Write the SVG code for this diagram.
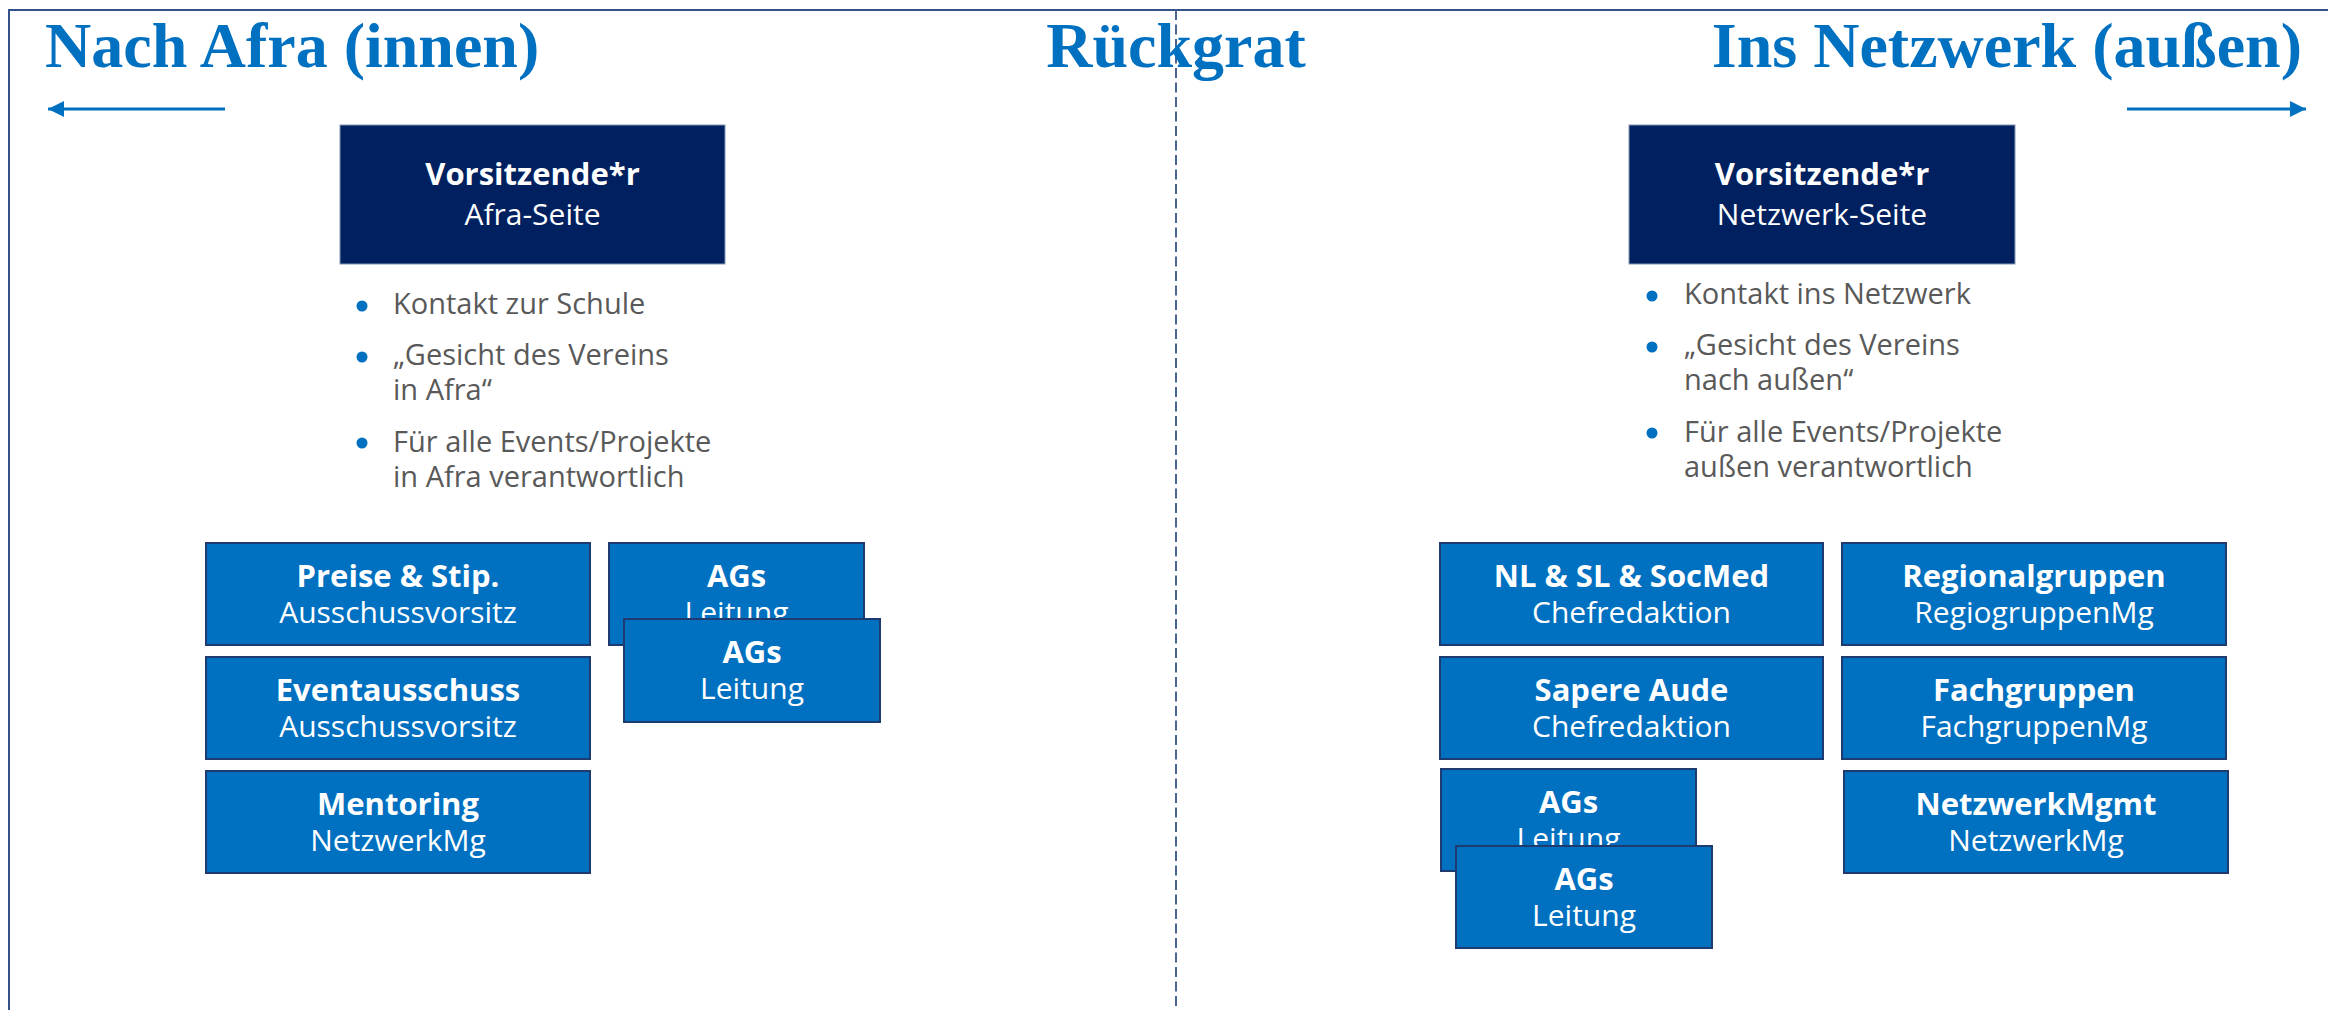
<svg xmlns="http://www.w3.org/2000/svg" width="2328" height="1010" viewBox="0 0 2328 1010">
<style>
.title{font-family:"Liberation Serif","Times New Roman",serif;font-weight:bold;font-size:64px;fill:#0070C0}
.lead rect{fill:#002060;stroke:#8497B0;stroke-width:1}
.unit rect{fill:#0070C0;stroke:#1F3A6E;stroke-width:2}
.nb{font-family:"Open Sans","Noto Sans",sans-serif;font-weight:bold;font-size:31px;fill:#FFFFFF;text-anchor:middle}
.nr{font-family:"Open Sans","Noto Sans",sans-serif;font-size:30px;fill:#FFFFFF;text-anchor:middle}
.bt{font-family:"Open Sans","Noto Sans",sans-serif;font-size:29px;fill:#595959}
.dot{fill:#0070C0}
</style>
<defs>
<marker id="ah" markerUnits="userSpaceOnUse" markerWidth="18" markerHeight="18" refX="16" refY="8" orient="auto">
<path d="M0,0 L16,8 L0,16 Z" fill="#0070C0"/>
</marker>
</defs>
<rect x="0" y="0" width="2328" height="1010" fill="#FFFFFF"/>
<rect id="frame" x="9" y="10" width="2400" height="1100" fill="none" stroke="#34518A" stroke-width="2"/>
<line id="backbone" x1="1176" y1="10" x2="1176" y2="1010" stroke="#4A6491" stroke-width="2" stroke-dasharray="10,4.5"/>

<text class="title" x="45" y="67">Nach Afra (innen)</text>
<text class="title" x="1176" y="67" text-anchor="middle">Rückgrat</text>
<text class="title" x="2302" y="67" text-anchor="end">Ins Netzwerk (außen)</text>

<g id="connectors">
<line x1="225" y1="109" x2="48" y2="109" stroke="#0070C0" stroke-width="3" marker-end="url(#ah)"/>
<line x1="2127" y1="109" x2="2306" y2="109" stroke="#0070C0" stroke-width="3" marker-end="url(#ah)"/>
</g>

<g id="vorsitz-afra" class="lead">
<rect x="340" y="125" width="385" height="139"/>
<text class="nb" x="532.5" y="185">Vorsitzende*r</text>
<text class="nr" x="532.5" y="225">Afra-Seite</text>
</g>
<g id="bullets-afra">
<circle class="dot" cx="362" cy="306" r="5.5"/>
<text class="bt" x="393" y="314">Kontakt zur Schule</text>
<circle class="dot" cx="362" cy="357" r="5.5"/>
<text class="bt" x="393" y="365">„Gesicht des Vereins</text>
<text class="bt" x="393" y="400">in Afra“</text>
<circle class="dot" cx="362" cy="443" r="5.5"/>
<text class="bt" x="393" y="452">Für alle Events/Projekte</text>
<text class="bt" x="393" y="487">in Afra verantwortlich</text>
</g>

<g id="vorsitz-netzwerk" class="lead">
<rect x="1629" y="125" width="386" height="139"/>
<text class="nb" x="1822" y="185">Vorsitzende*r</text>
<text class="nr" x="1822" y="225">Netzwerk-Seite</text>
</g>
<g id="bullets-netzwerk">
<circle class="dot" cx="1652" cy="296" r="5.5"/>
<text class="bt" x="1684" y="304">Kontakt ins Netzwerk</text>
<circle class="dot" cx="1652" cy="347" r="5.5"/>
<text class="bt" x="1684" y="355">„Gesicht des Vereins</text>
<text class="bt" x="1684" y="390">nach außen“</text>
<circle class="dot" cx="1652" cy="433" r="5.5"/>
<text class="bt" x="1684" y="442">Für alle Events/Projekte</text>
<text class="bt" x="1684" y="477">außen verantwortlich</text>
</g>

<g id="preise" class="unit">
<rect x="206" y="543" width="384" height="102"/>
<text class="nb" x="398" y="587">Preise &amp; Stip.</text>
<text class="nr" x="398" y="623">Ausschussvorsitz</text>
</g>
<g id="eventausschuss" class="unit">
<rect x="206" y="657" width="384" height="102"/>
<text class="nb" x="398" y="701">Eventausschuss</text>
<text class="nr" x="398" y="737">Ausschussvorsitz</text>
</g>
<g id="mentoring" class="unit">
<rect x="206" y="771" width="384" height="102"/>
<text class="nb" x="398" y="815">Mentoring</text>
<text class="nr" x="398" y="851">NetzwerkMg</text>
</g>
<g id="ags-afra-1" class="unit">
<rect x="609" y="543" width="255" height="102"/>
<text class="nb" x="736.5" y="587">AGs</text>
<text class="nr" x="736.5" y="623">Leitung</text>
</g>
<g id="ags-afra-2" class="unit">
<rect x="624" y="619" width="256" height="103"/>
<text class="nb" x="752" y="663">AGs</text>
<text class="nr" x="752" y="699">Leitung</text>
</g>

<g id="nl-sl-socmed" class="unit">
<rect x="1440" y="543" width="383" height="102"/>
<text class="nb" x="1631.5" y="587">NL &amp; SL &amp; SocMed</text>
<text class="nr" x="1631.5" y="623">Chefredaktion</text>
</g>
<g id="regionalgruppen" class="unit">
<rect x="1842" y="543" width="384" height="102"/>
<text class="nb" x="2034" y="587">Regionalgruppen</text>
<text class="nr" x="2034" y="623">RegiogruppenMg</text>
</g>
<g id="sapere-aude" class="unit">
<rect x="1440" y="657" width="383" height="102"/>
<text class="nb" x="1631.5" y="701">Sapere Aude</text>
<text class="nr" x="1631.5" y="737">Chefredaktion</text>
</g>
<g id="fachgruppen" class="unit">
<rect x="1842" y="657" width="384" height="102"/>
<text class="nb" x="2034" y="701">Fachgruppen</text>
<text class="nr" x="2034" y="737">FachgruppenMg</text>
</g>
<g id="netzwerkmgmt" class="unit">
<rect x="1844" y="771" width="384" height="102"/>
<text class="nb" x="2036" y="815">NetzwerkMgmt</text>
<text class="nr" x="2036" y="851">NetzwerkMg</text>
</g>
<g id="ags-netzwerk-1" class="unit">
<rect x="1441" y="769" width="255" height="102"/>
<text class="nb" x="1568.5" y="813">AGs</text>
<text class="nr" x="1568.5" y="849">Leitung</text>
</g>
<g id="ags-netzwerk-2" class="unit">
<rect x="1456" y="846" width="256" height="102"/>
<text class="nb" x="1584" y="890">AGs</text>
<text class="nr" x="1584" y="926">Leitung</text>
</g>
</svg>
